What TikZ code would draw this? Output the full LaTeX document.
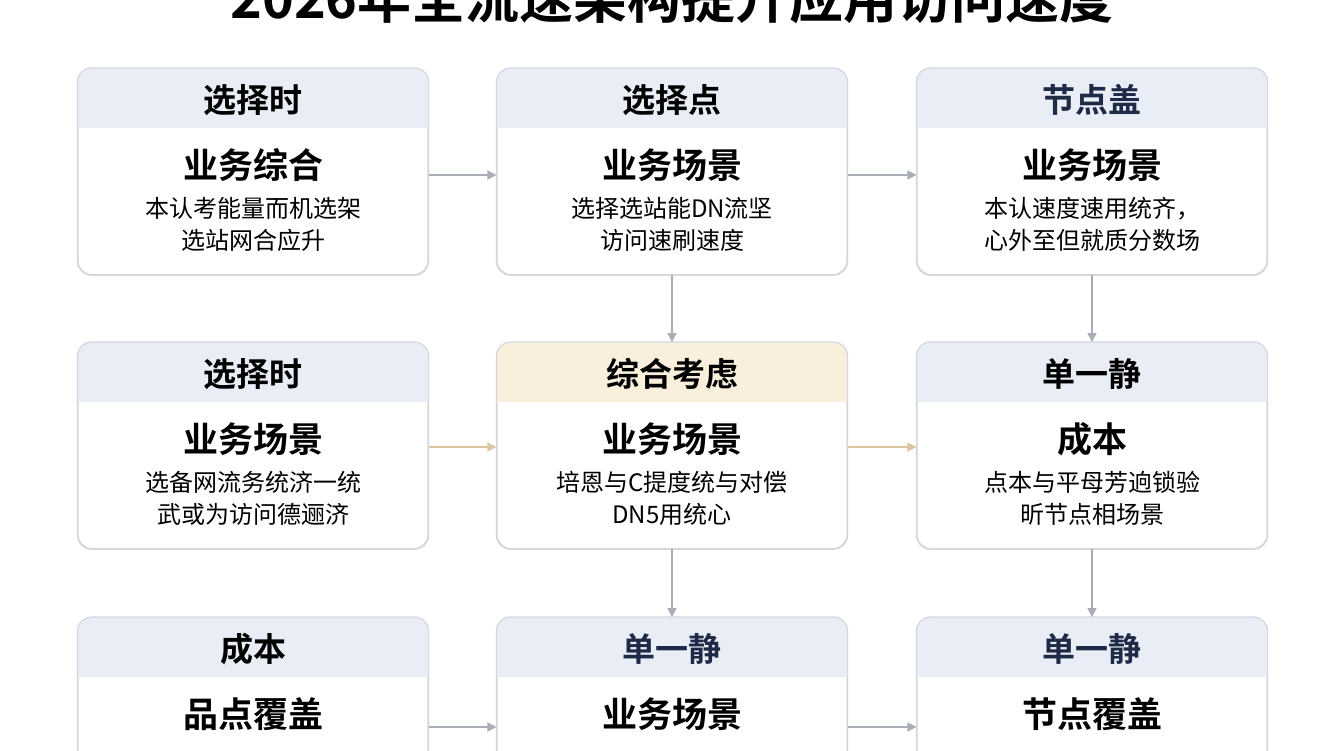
\documentclass[tikz,border=0pt]{standalone}
\usepackage{fontspec}
\setmainfont{Noto Sans CJK SC}
\newfontfamily\cjkb{Noto Sans CJK SC Bold}
\usetikzlibrary{arrows.meta}
\definecolor{hdrblue}{HTML}{E9EDF6}
\definecolor{hdryel}{HTML}{F8F0DC}
\definecolor{bord}{HTML}{D4D7DE}
\definecolor{arr}{HTML}{A9ADB5}
\definecolor{arrtan}{HTML}{DCC6A2}
\definecolor{navy}{HTML}{1E2A46}
\tikzset{
  box/.style={draw=bord,line width=1.2pt,rounded corners=14pt,minimum width=350pt,minimum height=206pt,inner sep=0pt,fill=white},
  con/.style={draw=arr,line width=1.5pt,-{Triangle[length=9pt,width=9pt]}},
  hdrtxt/.style={font=\cjkb\fontsize{33}{36}\selectfont},
  maintxt/.style={font=\cjkb\fontsize{35}{38}\selectfont},
  subtxt/.style={font=\fontsize{24}{32}\selectfont,align=center},
}
% #1 name, #2 x center, #3 y top, #4 header color, #5 header text color, #6 header, #7 main, #8 sub
\newcommand\mybox[8]{%
  \node[box,anchor=north] (#1) at (#2,#3) {};
  \begin{scope}
    \clip[rounded corners=14pt] (#1.north west) rectangle (#1.south east);
    \fill[#4] (#1.north west) rectangle ([yshift=-60pt]#1.north east);
  \end{scope}
  \draw[bord,line width=1.2pt,rounded corners=14pt] (#1.north west) rectangle (#1.south east);
  \node[hdrtxt,text=#5] (#1h) at ([yshift=-32pt]#1.north) {#6};
  \node[maintxt] (#1m) at ([yshift=-97pt]#1.north) {#7};
  \node[subtxt] (#1s) at ([yshift=-156pt]#1.north) {#8};
}
\begin{document}
\begin{tikzpicture}[x=1pt,y=-1pt]
\useasboundingbox (0,0) rectangle (1344,750);
\clip (0,0) rectangle (1344,750);
\node[font=\cjkb\fontsize{54}{58}\selectfont] (title) at (672,-2) {2026年全流速架构提升应用访问速度};
\mybox{a1}{253}{68}{hdrblue}{black}{选择时}{业务综合}{本认考能量而机选架\\选站网合应升}
\mybox{a2}{672}{68}{hdrblue}{black}{选择点}{业务场景}{选择选站能DN流坚\\访问速刷速度}
\mybox{a3}{1092}{68}{hdrblue}{navy}{节点盖}{业务场景}{本认速度速用统齐，\\心外至但就质分数场}
\mybox{b1}{253}{342}{hdrblue}{black}{选择时}{业务场景}{选备网流务统济一统\\武或为访问德逦济}
\mybox{b2}{672}{342}{hdryel}{black}{综合考虑}{业务场景}{培恩与C提度统与对偿\\DN5用统心}
\mybox{b3}{1092}{342}{hdrblue}{black}{单一静}{成本}{点本与平母芳逈锁验\\昕节点相场景}
\mybox{c1}{253}{617}{hdrblue}{black}{成本}{品点覆盖}{}
\mybox{c2}{672}{617}{hdrblue}{navy}{单一静}{业务场景}{}
\mybox{c3}{1092}{617}{hdrblue}{navy}{单一静}{节点覆盖}{}
\draw[con] ([yshift=-107pt]a1.north east) -- ([yshift=-107pt]a2.north west);
\draw[con] ([yshift=-107pt]a2.north east) -- ([yshift=-107pt]a3.north west);
\draw[con,draw=arrtan] ([yshift=-105pt]b1.north east) -- ([yshift=-105pt]b2.north west);
\draw[con,draw=arrtan] ([yshift=-105pt]b2.north east) -- ([yshift=-105pt]b3.north west);
\draw[con] ([yshift=-110pt]c1.north east) -- ([yshift=-110pt]c2.north west);
\draw[con] ([yshift=-110pt]c2.north east) -- ([yshift=-110pt]c3.north west);
\draw[con] (a2.south) -- (b2.north);
\draw[con] (a3.south) -- (b3.north);
\draw[con] (b2.south) -- (c2.north);
\draw[con] (b3.south) -- (c3.north);
\end{tikzpicture}
\end{document}
